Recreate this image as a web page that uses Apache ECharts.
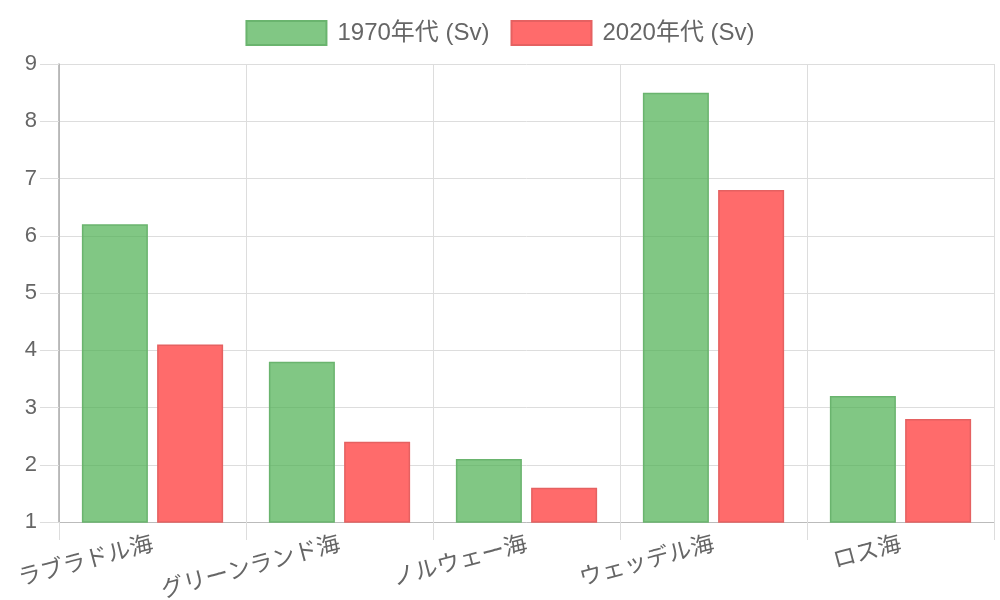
<!DOCTYPE html>
<html><head><meta charset="utf-8">
<script src="https://cdn.jsdelivr.net/npm/echarts@6/dist/echarts.min.js"></script>
<style>html,body{margin:0;padding:0;background:#fff}#c{width:1000px;height:600px}</style>
</head><body><div id="c"></div>
<script>
const categories = ['ラブラドル海', 'グリーンランド海', 'ノルウェー海', 'ウェッデル海', 'ロス海'];
const series1970 = [6.2, 3.8, 2.1, 8.5, 3.2];
const series2020 = [4.1, 2.4, 1.6, 6.8, 2.8];
const seriesNames = ['1970年代 (Sv)', '2020年代 (Sv)'];
const yTicks = { min: 1, max: 9, interval: 1 };

const FONT = "'Liberation Sans', 'Noto Sans CJK JP', sans-serif";
const chart = echarts.init(document.getElementById('c'));
chart.setOption({
  animation: false,
  textStyle: { fontFamily: FONT },
  legend: {
    top: 15, left: 'center', itemWidth: 80, itemHeight: 24, itemGap: 21, icon: 'rect',
    textStyle: { fontSize: 24, color: '#666', fontFamily: FONT, padding: [0, 0, 0, 6] },
    data: seriesNames
  },
  grid: { left: 59, right: 6, top: 64, bottom: 78, containLabel: false, outerBoundsMode: 'none' },
  xAxis: {
    type: 'category', data: categories, boundaryGap: true,
    axisLine: { show: true, lineStyle: { color: '#bbb', width: 1 } },
    axisTick: { show: true, length: 18, lineStyle: { color: '#ddd' } },
    splitLine: { show: true, lineStyle: { color: '#ddd' } },
    axisLabel: { rotate: 15, fontSize: 23, color: '#666', margin: 22, fontFamily: FONT, interval: 0 }
  },
  yAxis: {
    type: 'value', min: yTicks.min, max: yTicks.max, interval: yTicks.interval,
    axisLine: { show: true, lineStyle: { color: '#aaa', width: 1.5 } },
    axisTick: { show: true, length: 19, lineStyle: { color: '#ddd' } },
    splitLine: { show: true, lineStyle: { color: '#ddd' } },
    axisLabel: { fontSize: 22, color: '#666', margin: 22, fontFamily: FONT }
  },
  series: [
    { name: seriesNames[0], type: 'bar', data: series1970, barWidth: 66, barGap: '14%', clip: true,
      itemStyle: { color: 'rgba(76,175,80,0.7)', borderColor: '#6ab46e', borderWidth: 1.5 } },
    { name: seriesNames[1], type: 'bar', data: series2020, barWidth: 66, clip: true,
      itemStyle: { color: '#ff6b6b', borderColor: '#e56161', borderWidth: 1.5 } }
  ]
});
</script></body></html>
